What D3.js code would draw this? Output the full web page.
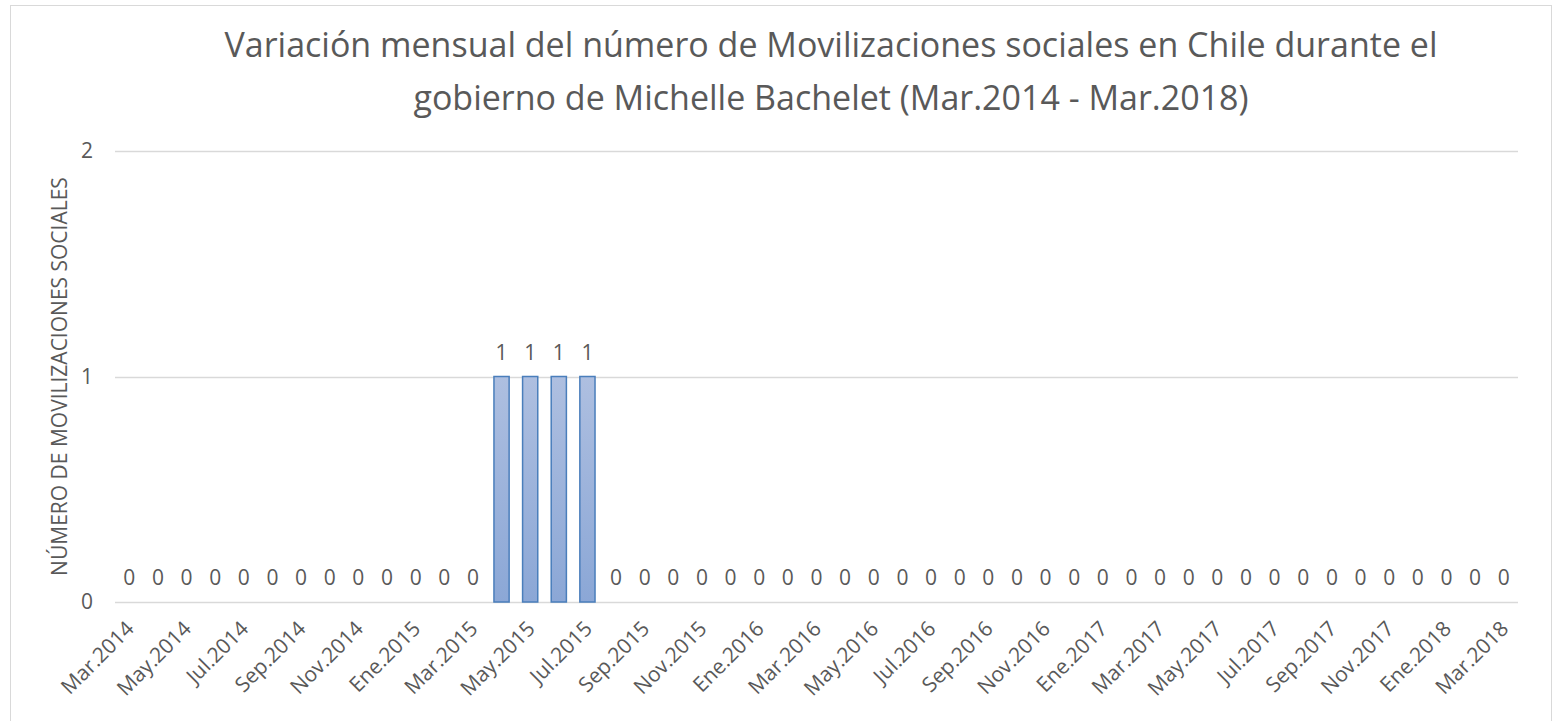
<!DOCTYPE html>
<html>
<head>
<meta charset="utf-8">
<script src="https://cdn.jsdelivr.net/npm/d3@7"></script>
<style>
  html, body { margin: 0; padding: 0; background: #ffffff; }
  svg { display: block; }
  text { font-family: "Open Sans", "DejaVu Sans", sans-serif; fill: #595959; }
</style>
</head>
<body>
<svg id="chart" width="1561" height="721"></svg>
<script>
// Months of the period, one category each
const months = [
  "Mar.2014","Abr.2014","May.2014","Jun.2014","Jul.2014","Ago.2014","Sep.2014","Oct.2014","Nov.2014","Dic.2014",
  "Ene.2015","Feb.2015","Mar.2015","Abr.2015","May.2015","Jun.2015","Jul.2015","Ago.2015","Sep.2015","Oct.2015",
  "Nov.2015","Dic.2015","Ene.2016","Feb.2016","Mar.2016","Abr.2016","May.2016","Jun.2016","Jul.2016","Ago.2016",
  "Sep.2016","Oct.2016","Nov.2016","Dic.2016","Ene.2017","Feb.2017","Mar.2017","Abr.2017","May.2017","Jun.2017",
  "Jul.2017","Ago.2017","Sep.2017","Oct.2017","Nov.2017","Dic.2017","Ene.2018","Feb.2018","Mar.2018"
];
// Number of social mobilizations per month
const counts = [
  0,0,0,0,0,0,0,0,0,0,
  0,0,0,1,1,1,1,0,0,0,
  0,0,0,0,0,0,0,0,0,0,
  0,0,0,0,0,0,0,0,0,0,
  0,0,0,0,0,0,0,0,0
];
// Labels shown on the category axis (every other month)
const tickLabels = months.filter((m, i) => i % 2 === 0);
const yTicks = [0, 1, 2];

const titleLines = [
  "Variación mensual del número de Movilizaciones sociales en Chile durante el",
  "gobierno de Michelle Bachelet (Mar.2014 - Mar.2018)"
];
const yAxisTitle = "NÚMERO DE MOVILIZACIONES SOCIALES";

const svg = d3.select("#chart");
const plot = { left: 115, right: 1518, top: 151, bottom: 602 };

// Chart frame
svg.append("rect")
  .attr("x", 10.5).attr("y", 5.5)
  .attr("width", 1541).attr("height", 730)
  .attr("fill", "#ffffff").attr("stroke", "#d9d9d9").attr("stroke-width", 1);

// Bar gradient
const defs = svg.append("defs");
const grad = defs.append("linearGradient").attr("id", "barFill")
  .attr("x1", 0).attr("y1", 0).attr("x2", 0).attr("y2", 1);
grad.append("stop").attr("offset", "0%").attr("stop-color", "#aebfe0");
grad.append("stop").attr("offset", "100%").attr("stop-color", "#8ba7d6");

const x = d3.scaleBand()
  .domain(months)
  .range([plot.left, plot.right])
  .paddingInner(0.47)
  .paddingOuter(0.235);

const y = d3.scaleLinear()
  .domain([0, 2])
  .range([plot.bottom, plot.top]);

// Horizontal gridlines
svg.append("g")
  .selectAll("line")
  .data(yTicks)
  .join("line")
  .attr("x1", plot.left).attr("x2", plot.right)
  .attr("y1", d => Math.round(y(d)) + 0.5).attr("y2", d => Math.round(y(d)) + 0.5)
  .attr("stroke", "#d9d9d9").attr("stroke-width", 1.3);

// Y axis labels
const yAxis = d3.axisLeft(y).tickValues(yTicks).tickFormat(d3.format("d")).tickSize(0).tickPadding(0);
const gy = svg.append("g").attr("transform", `translate(${plot.left - 22},0)`).call(yAxis);
gy.select(".domain").remove();
gy.selectAll("text")
  .attr("font-size", 21)
  .attr("font-family", "'Open Sans', sans-serif")
  .style("fill", "#595959");

// Bars
svg.append("g")
  .selectAll("rect")
  .data(months.map((m, i) => ({ m, v: counts[i] })).filter(d => d.v > 0))
  .join("rect")
  .attr("x", d => x(d.m))
  .attr("y", d => y(d.v))
  .attr("width", x.bandwidth())
  .attr("height", d => y(0) - y(d.v))
  .attr("fill", "url(#barFill)")
  .attr("stroke", "#4a7ebb")
  .attr("stroke-width", 1.5);

// Value labels
svg.append("g")
  .selectAll("text")
  .data(months.map((m, i) => ({ m, v: counts[i] })))
  .join("text")
  .attr("x", d => x(d.m) + x.bandwidth() / 2)
  .attr("y", d => y(d.v) - 17)
  .attr("text-anchor", "middle")
  .attr("font-size", 21)
  .text(d => d.v);

// Category axis
const xAxis = d3.axisBottom(x)
  .tickValues(tickLabels)
  .tickSize(0)
  .tickPadding(0);
const gx = svg.append("g").attr("transform", `translate(0,${plot.bottom})`).call(xAxis);
gx.select(".domain").remove();
gx.selectAll("text")
  .attr("font-size", 21)
  .attr("font-family", "'Open Sans', sans-serif")
  .style("fill", "#595959")
  .attr("text-anchor", "end")
  .attr("y", 0)
  .attr("dy", 0)
  .attr("transform", "translate(6,28) rotate(-45)");

// Y axis title
svg.append("text")
  .attr("transform", `translate(67,${(plot.top + plot.bottom) / 2}) rotate(-90)`)
  .attr("text-anchor", "middle")
  .attr("font-size", 21)
  .text(yAxisTitle);

// Title
svg.append("g")
  .selectAll("text")
  .data(titleLines)
  .join("text")
  .attr("x", 831)
  .attr("y", (d, i) => 57 + i * 53)
  .attr("text-anchor", "middle")
  .attr("font-size", 34)
  .text(d => d);
</script>
</body>
</html>
